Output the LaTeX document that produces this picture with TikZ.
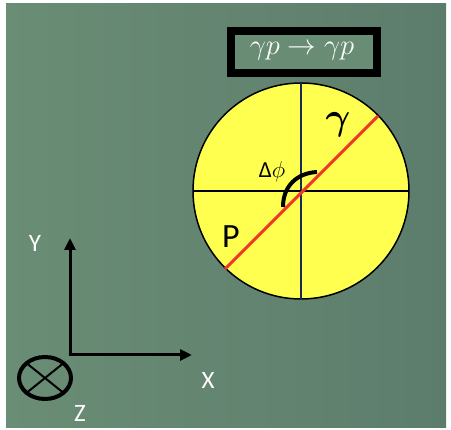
\documentclass[tikz,border=0pt]{standalone}
\usepackage{fix-cm}
\usepackage{fontspec}
\setmainfont{Carlito}
\usetikzlibrary{arrows.meta}
\definecolor{bgA}{RGB}{106,141,117}
\definecolor{bgB}{RGB}{92,125,108}
\definecolor{disk}{RGB}{255,255,80}
\definecolor{redline}{RGB}{240,55,40}
\definecolor{navy}{RGB}{25,40,90}
\tikzset{
  lbl/.style={text=white, font=\fontsize{25}{27}\selectfont, inner sep=0pt},
  axisarrow/.style={line width=3pt, -{Triangle[length=12pt,width=11pt]}},
}
\begin{document}
\begin{tikzpicture}[x=1pt,y=-1pt]
\useasboundingbox (0,0) rectangle (451,430);
% background
\shade[left color=bgA, right color=bgB] (6,4) rectangle (446,428);
% title box
\draw[line width=8pt, fill=bgA!92!bgB] (231,31) rectangle (377,73);
\node[text=white, inner sep=0pt, font=\fontsize{28.5}{30}\selectfont] (title) at (302,51) {$\gamma p \rightarrow \gamma p$};
% disk
\coordinate (c) at (301,191);
\draw[line width=1.5pt, fill=disk] (c) circle[radius=108];
\draw[line width=1.2pt, navy] (301,83) -- (301,299);
\draw[line width=1.2pt, black] (193,191) -- (409,191);
\draw[line width=3pt, redline] (225,269) -- (378,116);
\draw[line width=4pt] (283,207) .. controls (283,186) and (297,173) .. (317,172);
\node[inner sep=0pt, font=\fontsize{23}{25}\selectfont] (dphi) at (272,172) {Δ$\phi$};
\node[inner sep=0pt, font=\fontsize{38}{40}\selectfont\boldmath] (gam) at (338,125) {$\gamma$};
\node[inner sep=0pt, font=\fontsize{34}{36}\selectfont] (P) at (231,237) {P};
% axes
\coordinate (o) at (70,355);
\coordinate (ytip) at (70,238);
\coordinate (xtip) at (192,355);
\draw[axisarrow] ([yshift=1.5pt]o) -- (ytip);
\draw[axisarrow] ([xshift=-1.5pt]o) -- (xtip);
\node[lbl] (Y) at (35,243) {Y};
\node[lbl] (X) at (208,380) {X};
\node[lbl] (Z) at (80,413) {Z};
% into-page symbol
\coordinate (e) at (45,378);
\draw[line width=4pt] (e) ellipse[x radius=26, y radius=21];
\draw[line width=2pt] (26.6,363.2) -- (63.4,392.8);
\draw[line width=2pt] (26.6,392.8) -- (63.4,363.2);
\end{tikzpicture}
\end{document}
